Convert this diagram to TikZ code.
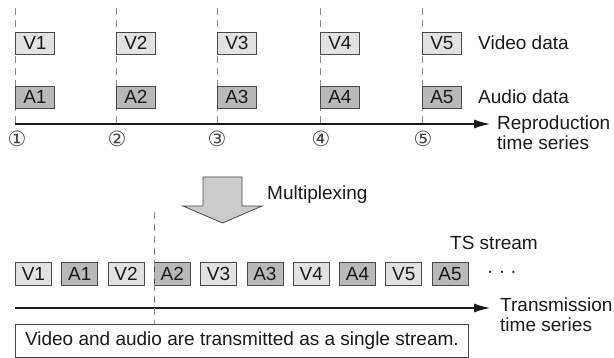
\documentclass[tikz,border=0pt]{standalone}
\usepackage{fontspec}
\setmainfont{Liberation Sans}
\newfontfamily\circfont{DejaVu Sans}
\usetikzlibrary{arrows.meta}
\definecolor{vfill}{HTML}{E2E2E2}
\definecolor{afill}{HTML}{B9B9B9}
\definecolor{boxline}{HTML}{4A4A4A}
\definecolor{guide}{HTML}{8C8C8C}
\definecolor{ink}{HTML}{1A1A1A}
\tikzset{
  every node/.style = { text=ink, font=\fontsize{19}{20}\selectfont },
  vbox/.style       = { draw=boxline, fill=vfill, line width=0.8pt, inner sep=0pt,
                        minimum width=39pt, minimum height=22pt, anchor=west },
  abox/.style       = { vbox, fill=afill },
  vpkt/.style       = { vbox, minimum width=36pt, minimum height=23pt },
  apkt/.style       = { vpkt, fill=afill },
  guideline/.style  = { guide, line width=0.8pt, dash pattern=on 7pt off 5pt },
  timeline/.style   = { ink, line width=1.2pt, -{Latex[length=16pt,width=9pt]} },
  tick/.style       = { font=\circfont\fontsize{21}{21}\selectfont, text=ink!80 },
  caption/.style    = { anchor=west, inner sep=0pt },
  twoline/.style    = { anchor=north west, inner sep=0pt, align=left }
}

\begin{document}
\begin{tikzpicture}[x=1pt,y=-1pt]
    \useasboundingbox (0,0) rectangle (614,358);

    % reproduction side
    \coordinate (r0) at (15,124);
    \coordinate (r1) at (490,124);
    \draw[guideline] (15,8) -- (15,124);
    \draw[guideline] (116,8) -- (116,124);
    \draw[guideline] (217,8) -- (217,124);
    \draw[guideline] (320,8) -- (320,124);
    \draw[guideline] (422,8) -- (422,124);

    \node[vbox] (v1) at (15,43) {V1};
    \node[vbox] (v2) at (116,43) {V2};
    \node[vbox] (v3) at (217,43) {V3};
    \node[vbox] (v4) at (320,43) {V4};
    \node[vbox] (v5) at (422,43) {V5};

    \node[abox] (a1) at (15,97) {A1};
    \node[abox] (a2) at (116,97) {A2};
    \node[abox] (a3) at (217,97) {A3};
    \node[abox] (a4) at (320,97) {A4};
    \node[abox] (a5) at (422,97) {A5};

    \node[caption] (vlabel) at (478,43) {Video data};
    \node[caption] (alabel) at (478,97) {Audio data};

    \draw[timeline] (r0) -- (r1);
    \node[twoline] (rlabel) at (497,116) {Reproduction\\time series};

    \node[tick] (t1) at (17,139) {①};
    \node[tick] (t2) at (117,139) {②};
    \node[tick] (t3) at (217,139) {③};
    \node[tick] (t4) at (321,139) {④};
    \node[tick] (t5) at (423,139) {⑤};

    % multiplexing
    \draw[boxline, fill=vfill!90!black, line width=0.8pt]
        (203,177) -- (242,177) -- (242,206) -- (262,206) -- (222.5,223)
        -- (183,206) -- (203,206) -- cycle;
    \node[caption] (mux) at (267,195) {Multiplexing};

    % transmission side
    \coordinate (s0) at (15,308);
    \coordinate (s1) at (490,308);
    \node[caption] (ts) at (450,243) {TS stream};

    \node[vpkt] (p1) at (15,274) {V1};
    \node[apkt] (p2) at (61.3,274) {A1};
    \node[vpkt] (p3) at (107.6,274) {V2};
    \node[apkt] (p4) at (153.9,274) {A2};
    \node[vpkt] (p5) at (200.2,274) {V3};
    \node[apkt] (p6) at (246.5,274) {A3};
    \node[vpkt] (p7) at (292.8,274) {V4};
    \node[apkt] (p8) at (339.1,274) {A4};
    \node[vpkt] (p9) at (385.4,274) {V5};
    \node[apkt] (p10) at (431.7,274) {A5};
    \node[caption] (more) at (487,274) {· · ·};

    \draw[timeline] (s0) -- (s1);
    \node[twoline] (tlabel) at (500,298) {Transmission\\time series};

    \node[draw=boxline, line width=0.8pt, fill=white, minimum width=453pt,
          minimum height=33pt, inner sep=0pt, anchor=north west] (note) at (15,324)
          {Video and audio are transmitted as a single stream.};

    \draw[guideline] (p4.west |- 0,212) -- (p4.west |- note.north);
\end{tikzpicture}
\end{document}
